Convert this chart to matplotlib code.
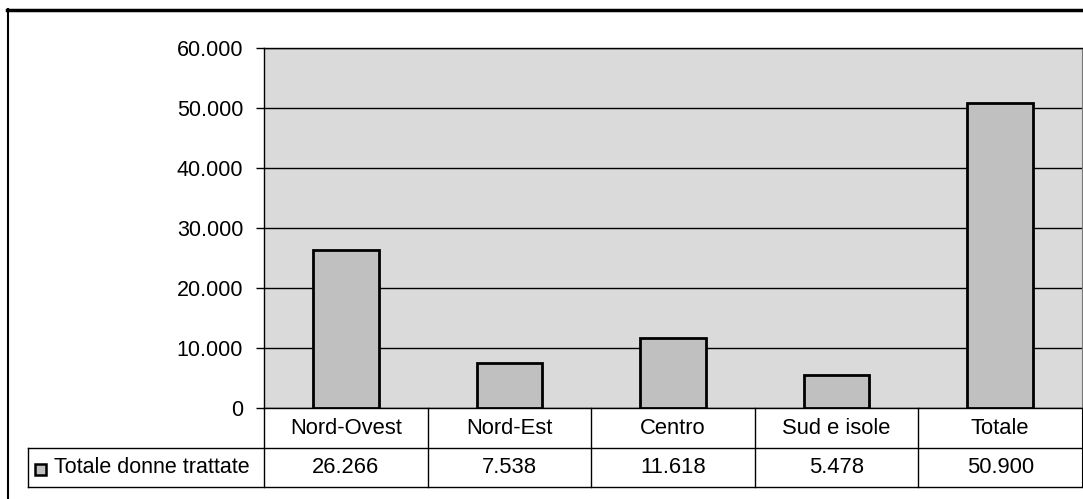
import matplotlib
matplotlib.use('Agg')
import matplotlib.pyplot as plt
from matplotlib.lines import Line2D
from matplotlib.patches import Rectangle
from matplotlib.transforms import blended_transform_factory

categories = ['Nord-Ovest', 'Nord-Est', 'Centro', 'Sud e isole', 'Totale']
values = [26266, 7538, 11618, 5478, 50900]
series_name = 'Totale donne trattate'
yticks = [0, 10000, 20000, 30000, 40000, 50000, 60000]


def it_fmt(v):
    return f"{int(round(v)):,}".replace(',', '.')


plt.rcParams['font.family'] = ['Liberation Sans', 'DejaVu Sans']

W, H = 1083, 499
fig = plt.figure(figsize=(W / 100, H / 100), dpi=100)
fig.patch.set_facecolor('white')


def fx(px):
    return px / W


def fy(py):
    return 1 - py / H


BAR_COLOR = '#c0c0c0'
ax = fig.add_axes([fx(264), fy(408), (1082 - 264) / W, (408 - 48) / H])
ax.set_facecolor('#dadada')
xs = list(range(len(categories)))
ax.bar(xs, values, width=0.4, color=BAR_COLOR, edgecolor='black',
       linewidth=2, zorder=3)
ax.set_xlim(-0.5, len(categories) - 0.5)
ax.set_ylim(yticks[0], yticks[-1])
ax.set_yticks(yticks)
ax.set_yticklabels([it_fmt(v) for v in yticks])
ax.yaxis.grid(True, color='black', linewidth=1.0)
ax.set_axisbelow(True)
ax.set_xticks([])
ax.tick_params(axis='y', direction='out', length=6, width=1, pad=9,
               labelsize=15.5, colors='black')
for s in ['left', 'bottom', 'top']:
    ax.spines[s].set_color('black')
    ax.spines[s].set_linewidth(1.0)
ax.spines['right'].set_color('#777777')
ax.spines['right'].set_linewidth(0.8)

# Data table below the plot
tr = blended_transform_factory(ax.transData, fig.transFigure)
n = len(categories)
y_top, y_mid, y_bot = fy(408), fy(448), fy(487)
lw = 1.0
for i in range(n + 1):
    xb = i - 0.5
    ax.add_line(Line2D([xb, xb], [y_top, y_bot], transform=tr,
                       color='black', lw=lw if i < n else 0.8, clip_on=False))
ftr = fig.transFigure
for yy in (y_mid, y_bot):
    fig.add_artist(Line2D([fx(28), fx(1082)], [yy, yy], transform=ftr,
                          color='black', lw=lw))
fig.add_artist(Line2D([fx(28), fx(28)], [y_mid, y_bot], transform=ftr,
                      color='black', lw=lw))

for i, (c, v) in enumerate(zip(categories, values)):
    ax.text(i, (y_top + y_mid) / 2, c, transform=tr, ha='center',
            va='center', fontsize=15.8, clip_on=False)
    ax.text(i, (y_mid + y_bot) / 2, it_fmt(v), transform=tr, ha='center',
            va='center', fontsize=15.8, clip_on=False)

# legend key + row label
fig.add_artist(Rectangle((fx(35), fy(475)), 11 / W, 11 / H, transform=ftr,
                         facecolor=BAR_COLOR, edgecolor='black', lw=1.8))
fig.text(fx(54), (y_mid + y_bot) / 2, series_name, ha='left', va='center',
         fontsize=15.5)

# outer frame (top and left edges visible in the scan)
fig.add_artist(Line2D([fx(7), fx(1083)], [fy(9.5), fy(9.5)], transform=ftr,
                      color='black', lw=2.5))
fig.add_artist(Line2D([fx(7.5), fx(7.5)], [fy(9), fy(499)], transform=ftr,
                      color='black', lw=1.5))

fig.savefig('out.png', dpi=100, facecolor='white')
